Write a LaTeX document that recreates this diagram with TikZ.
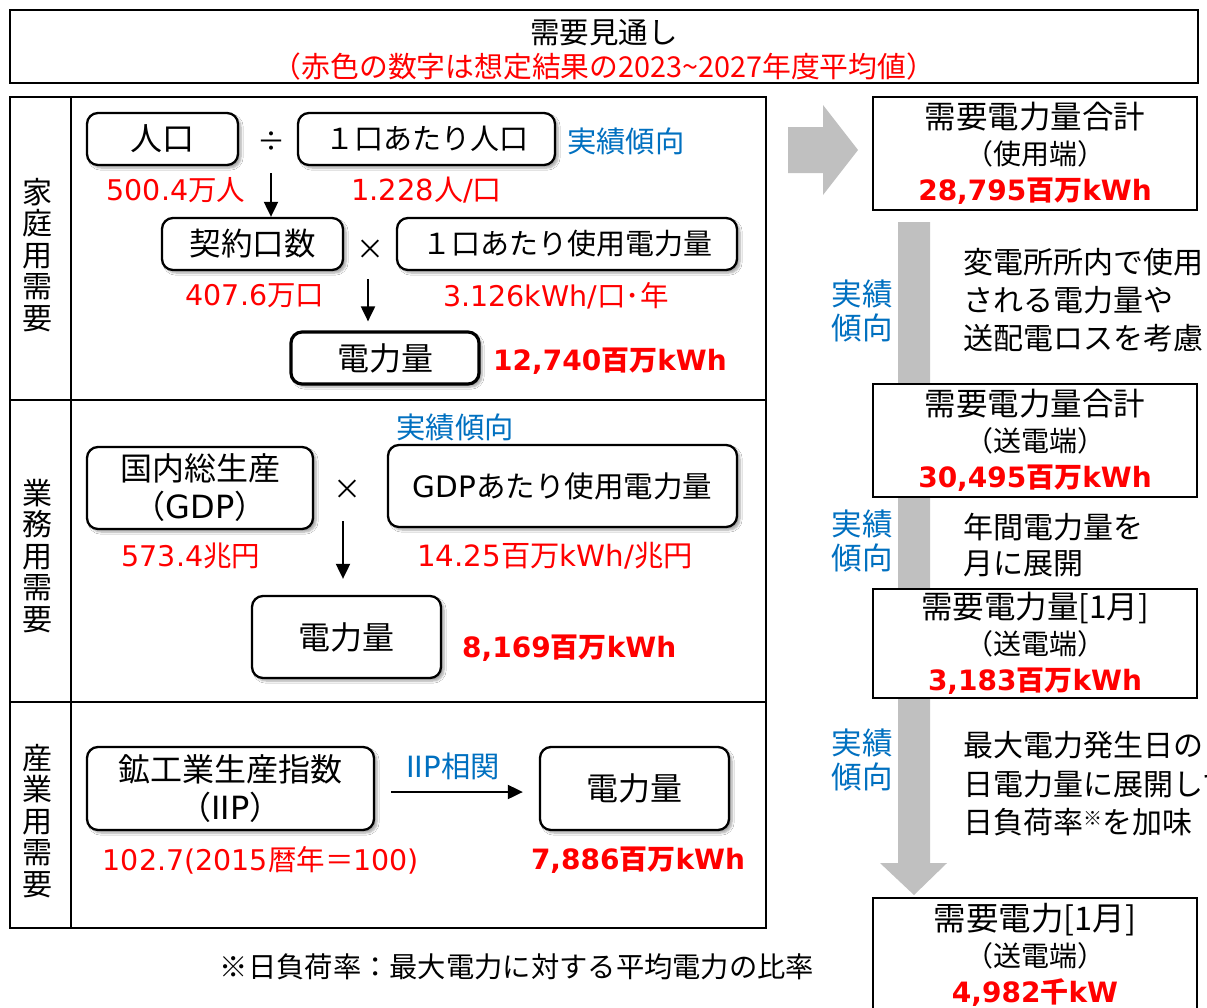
\documentclass[tikz,border=0pt]{standalone}
\usepackage{fontspec}
\setmainfont{Noto Sans CJK JP}
\newfontfamily\lat{DejaVu Sans}
\usetikzlibrary{arrows.meta,shadows.blur}
\definecolor{myred}{RGB}{255,0,0}
\definecolor{myblue}{RGB}{0,112,192}
\definecolor{arrgray}{RGB}{192,192,192}
\newcommand\fs[1]{\fontsize{#1}{#1}\selectfont}
\newcommand\Lt[1]{{\lat #1}}
\tikzset{
  frame/.style={draw=black, line width=2.5pt},
  rbox/.style={draw=black, line width=2.3pt, rounded corners=11pt, fill=white,
    blur shadow={shadow xshift=3pt, shadow yshift=-3pt, shadow opacity=35, shadow blur steps=6},
    inner sep=0pt, align=center, font=\fontsize{32}{38}\selectfont},
  sqbox/.style={draw=black, line width=2.5pt, fill=white, inner sep=0pt, align=center,
    font=\fontsize{31.5}{36}\selectfont},
  txt/.style={inner sep=0pt, font=\fs{28}},
  rednum/.style={txt, text=myred, font=\fs{28.5}},
  rednumb/.style={txt, text=myred, font=\fs{28}\bfseries},
  bluet/.style={txt, text=myblue, font=\fs{29.3}},
  sidelab/.style={txt, align=center, font=\fontsize{30}{31.5}\selectfont},
  note/.style={txt, anchor=west, align=left, font=\fontsize{30}{38}\selectfont},
  arr/.style={line width=2pt, -{Triangle[width=14pt,length=15pt]}},
}
\begin{document}
\begin{tikzpicture}[x=1pt,y=-1pt]
\useasboundingbox (0,0) rectangle (1207,1007);
\fill[white] (0,0) rectangle (1207,1007);

% title
\draw[frame] (10,10) rectangle (1198,83);
\node[txt, font=\fs{29.5}] (t1) at (604,33) {需要見通し};
\node[txt, text=myred, font=\fs{28.8}] (t2) at (604,67) {（赤色の数字は想定結果の2023\textasciitilde 2027年度平均値）};

% left frame
\draw[frame] (10,97) rectangle (766,928);
\draw[frame] (71,97) -- (71,928);
\draw[frame] (10,400) -- (766,400);
\draw[frame] (10,702) -- (766,702);

\node[sidelab] (s1) at (37,255) {家\\庭\\用\\需\\要};
\node[sidelab] (s2) at (37,556) {業\\務\\用\\需\\要};
\node[sidelab] (s3) at (37,821) {産\\業\\用\\需\\要};

% section 1
\node[rbox, minimum width=151, minimum height=52] (pop) at (162.5,139) {人口};
\node[txt] (div) at (271,142) {÷};
\node[rbox, font=\fs{29}, minimum width=257, minimum height=52] (ppl) at (426.5,139) {１口あたり人口};
\node[bluet, anchor=west] (b1) at (567,141) {実績傾向};
\node[rednum] (n1) at (176,190) {\Lt{500.4}万人};
\node[rednum, font=\fs{29}] (n2) at (426.5,190) {\Lt{1.228}人\Lt{/}口};
\node[rbox, font=\fs{31.5}, minimum width=181, minimum height=52] (kei) at (252.5,244) {契約口数};
\node[txt] (mul1) at (370,250) {×};
\node[rbox, font=\fs{29}, minimum width=340, minimum height=52] (use) at (567,244) {１口あたり使用電力量};
\node[rednum] (n3) at (255,296) {\Lt{407.6}万口};
\node[rednum] (n4) at (556,296) {\Lt{3.126kWh/}口･年};
\node[rbox, line width=3.2pt, minimum width=188, minimum height=52] (den1) at (385,358) {電力量};
\node[rednumb, anchor=west] (n5) at (493,361) {\Lt{12,740}百万\Lt{kWh}};
\coordinate (a1) at (271,173);
\draw[arr] (a1) -- (a1 |- kei.north);
\coordinate (a2) at (368,279);
\draw[arr, shorten >=9pt] (a2) -- (a2 |- den1.north);

% section 2
\node[bluet] (b2) at (455,427) {実績傾向};
\node[rbox, minimum width=226, minimum height=82] (gdp) at (200,488) {国内総生産\\（\Lt{GDP}）};
\node[txt] (mul2) at (347,490) {×};
\node[rbox, font=\fs{29.5}, minimum width=349, minimum height=82] (gdpu) at (562.5,486) {\Lt{GDP}あたり使用電力量};
\node[rednum] (n6) at (191,556) {\Lt{573.4}兆円};
\node[rednum, font=\fs{29.3}] (n7) at (555,556) {\Lt{14.25}百万\Lt{kWh/}兆円};
\node[rbox, minimum width=189, minimum height=82] (den2) at (346.5,637) {電力量};
\node[rednumb, anchor=west] (n8) at (462,648) {\Lt{8,169}百万\Lt{kWh}};
\coordinate (a3) at (343,521);
\draw[arr, shorten >=16pt] (a3) -- (a3 |- den2.north);

% section 3
\node[rbox, minimum width=287, minimum height=83] (iip) at (230.5,788.5) {鉱工業生産指数\\（\Lt{IIP}）};
\node[bluet] (b3) at (453,766) {\Lt{IIP}相関};
\node[rbox, minimum width=189, minimum height=83] (den3) at (634.5,788.5) {電力量};
\draw[arr, shorten <=16pt, shorten >=16pt] ([yshift=-3.5pt]iip.east) -- ([yshift=-3.5pt]den3.west);
\node[rednum] (n9) at (261,860) {\Lt{102.7(2015}暦年＝\Lt{100)}};
\node[rednumb] (n10) at (638,860) {\Lt{7,886}百万\Lt{kWh}};

\node[txt, font=\fs{28.3}] (fn) at (517,967) {※日負荷率：最大電力に対する平均電力の比率};

% right column arrows
\fill[arrgray] (788,127) -- (823,127) -- (823,105) -- (858,150) -- (823,195) -- (823,173) -- (788,173) -- cycle;
\fill[arrgray] (898,222) -- (930,222) -- (930,863) -- (947,863) -- (914,895) -- (880,863) -- (898,863) -- cycle;

% right boxes
\node[sqbox, minimum width=324, minimum height=113] (r1) at (1035,153.5)
  {需要電力量合計\\{\fs{28}（使用端）}\\{\fs{28}\bfseries\color{myred}\Lt{28,795}百万\Lt{kWh}}};
\node[sqbox, minimum width=324, minimum height=113] (r2) at (1035,440.5)
  {需要電力量合計\\{\fs{28}（送電端）}\\{\fs{28}\bfseries\color{myred}\Lt{30,495}百万\Lt{kWh}}};
\node[sqbox, minimum width=324, minimum height=109] (r3) at (1035,643.5)
  {需要電力量[1月]\\{\fs{28}（送電端）}\\{\fs{28}\bfseries\color{myred}\Lt{3,183}百万\Lt{kWh}}};
\node[sqbox, font=\fontsize{32.5}{36}\selectfont, minimum width=324, minimum height=114] (r4) at (1035,955)
  {需要電力[1月]\\{\fs{28}（送電端）}\\{\fs{28}\bfseries\color{myred}\Lt{4,982}千\Lt{kW}}};

\node[bluet, align=center, font=\fontsize{30.5}{34}\selectfont] (rb1) at (862,311) {実績\\傾向};
\node[bluet, align=center, font=\fontsize{30.5}{34}\selectfont] (rb2) at (862,541) {実績\\傾向};
\node[bluet, align=center, font=\fontsize{30.5}{34}\selectfont] (rb3) at (862,760) {実績\\傾向};

\node[note] (c1) at (963,300) {変電所所内で使用\\される電力量や\\送配電ロスを考慮};
\node[note, font=\fontsize{30}{36}\selectfont] (c2) at (963,545) {年間電力量を\\月に展開};
\node[note, font=\fontsize{30}{38.5}\selectfont] (c3) at (963,784) {最大電力発生日の\\日電力量に展開して\\日負荷率{\fs{19}\raisebox{8pt}{※}}を加味};
\end{tikzpicture}
\end{document}
